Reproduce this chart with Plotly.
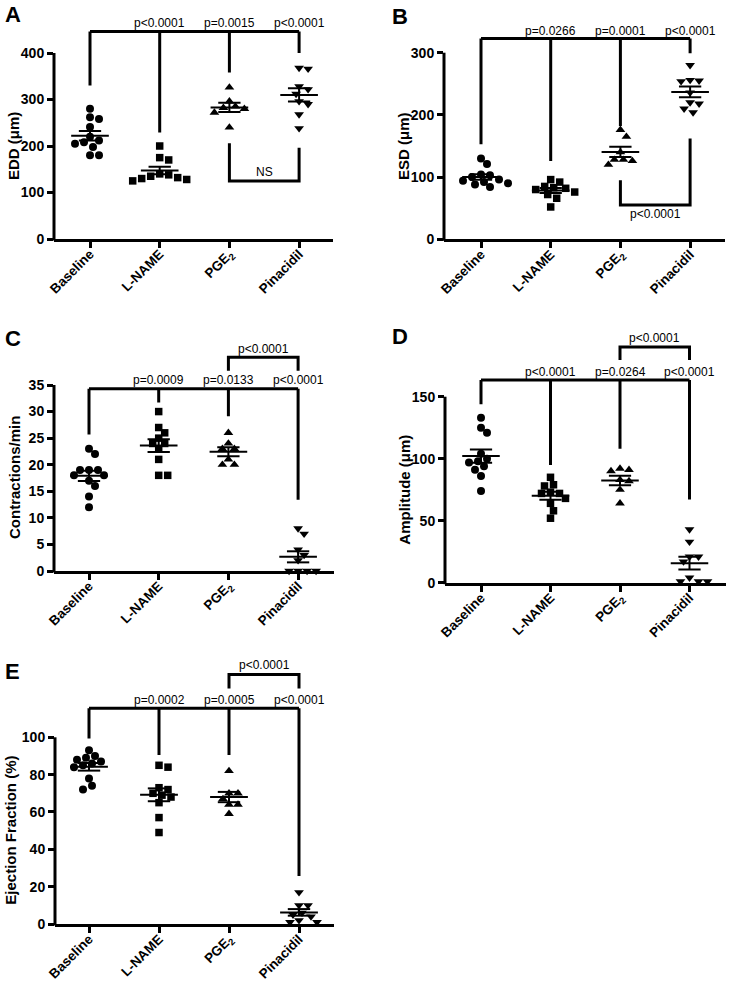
import numpy as np
import plotly.graph_objects as go

W, H = 750, 983
FONT = "Liberation Sans, Arial, sans-serif"

groups = ["Baseline", "L-NAME", "PGE<sub>2</sub>", "Pinacidil"]

# Panel A: EDD (µm)
edd_baseline = [280, 262, 258, 241, 220, 212, 208, 205, 198, 180, 180]
edd_lname = [200, 175, 170, 140, 138, 135, 132, 130, 128, 125]
edd_pge2 = [326, 296, 285, 282, 280, 272, 240]
edd_pinacidil = [368, 366, 328, 322, 312, 296, 290, 268, 238]
edd_p = ["p<0.0001", "p=0.0015", "p<0.0001"]
edd_p_pair = "NS"

# Panel B: ESD (µm)
esd_baseline = [130, 121, 104, 103, 100, 96, 94, 92, 90, 88, 84]
esd_lname = [96, 92, 85, 83, 82, 80, 76, 72, 66, 52]
esd_pge2 = [176, 165, 140, 128, 128, 126, 120]
esd_pinacidil = [280, 256, 255, 254, 236, 220, 218, 210, 204]
esd_p = ["p=0.0266", "p=0.0001", "p<0.0001"]
esd_p_pair = "p<0.0001"

# Panel C: Contractions/min
cpm_baseline = [23, 22, 19, 19, 19, 18, 18, 17, 16, 14, 12]
cpm_lname = [30, 27, 26, 25, 24, 24, 23, 21, 18, 18]
cpm_pge2 = [26, 24, 23, 23, 21, 20, 20]
cpm_pinacidil = [8, 7, 4, 3, 2, 0, 0, 0, 0]
cpm_p = ["p=0.0009", "p=0.0133", "p<0.0001"]
cpm_p_pair = "p<0.0001"

# Panel D: Amplitude (µm)
amp_baseline = [133, 125, 121, 104, 100, 98, 97, 94, 91, 86, 74]
amp_lname = [85, 79, 78, 73, 72, 72, 68, 64, 58, 52]
amp_pge2 = [92, 91, 90, 83, 82, 75, 64]
amp_pinacidil = [43, 33, 21, 21, 17, 4, 1, 1, 1]
amp_p = ["p<0.0001", "p=0.0264", "p<0.0001"]
amp_p_pair = "p<0.0001"

# Panel E: Ejection Fraction (%)
ef_baseline = [93, 90, 89, 88, 87, 86, 85, 84, 78, 74, 72]
ef_lname = [85, 84, 73, 72, 70, 69, 68, 65, 57, 49]
ef_pge2 = [82, 70, 70, 67, 64, 64, 59]
ef_pinacidil = [17, 10, 10, 6, 5, 4, 2, 1, 1]
ef_p = ["p=0.0002", "p=0.0005", "p<0.0001"]
ef_p_pair = "p<0.0001"

symbols = ["circle", "square", "triangle-up", "triangle-down"]
msizes = [8, 7.5, 8.5, 8.5]

# layout geometry (pixels) and bracket geometry (data units)
panels = [
    dict(letter="A", data=[edd_baseline, edd_lname, edd_pge2, edd_pinacidil], title="EDD (μm)",
         ticks=[0, 100, 200, 300, 400], left=54, right=333, y0=239, ytop_px=53, cat0=90, step=69.7, rtop=480,
         main_top=446, drops=[330, 229, 358, 400], ptext_y=464, pvals=edd_p,
         pair=dict(h=125, ends=[206, 196], text=edd_p_pair, ty=144), letter_xy=(3, 0)),
    dict(letter="B", data=[esd_baseline, esd_lname, esd_pge2, esd_pinacidil], title="ESD (μm)",
         ticks=[0, 100, 200, 300], left=444, right=725, y0=239.3, ytop_px=52.7, cat0=481, step=69.7, rtop=360,
         main_top=323, drops=[153, 126, 182, 299], ptext_y=335, pvals=esd_p,
         pair=dict(h=55, ends=[95, 162], text=esd_p_pair, ty=40), letter_xy=(390, 2)),
    dict(letter="C", data=[cpm_baseline, cpm_lname, cpm_pge2, cpm_pinacidil], title="Contractions/min",
         ticks=[0, 5, 10, 15, 20, 25, 30, 35], left=54, right=334, y0=571, ytop_px=385, cat0=89, step=69.7, rtop=44.5,
         main_top=34.3, drops=[25.7, 31.7, 29.1, 13.4], ptext_y=35.9, pvals=cpm_p,
         pair=dict(h=40.2, ends=[37.7, 37.7], text=cpm_p_pair, ty=41.8), letter_xy=(3, 324)),
    dict(letter="D", data=[amp_baseline, amp_lname, amp_pge2, amp_pinacidil], title="Amplitude (μm)",
         ticks=[0, 50, 100, 150], left=445, right=726, y0=582.7, ytop_px=396.7, cat0=481, step=69.5, rtop=206,
         main_top=163.5, drops=[144, 95, 108, 67], ptext_y=170, pvals=amp_p,
         pair=dict(h=190, ends=[179.6, 179.6], text=amp_p_pair, ty=197), letter_xy=(390, 322)),
    dict(letter="E", data=[ef_baseline, ef_lname, ef_pge2, ef_pinacidil], title="Ejection Fraction (%)",
         ticks=[0, 20, 40, 60, 80, 100], left=55, right=334, y0=924, ytop_px=737.3, cat0=89, step=70, rtop=145,
         main_top=115.5, drops=[99.4, 90.5, 90.5, 25.7], ptext_y=120, pvals=ef_p,
         pair=dict(h=133.7, ends=[126.2, 126.2], text=ef_p_pair, ty=138.7), letter_xy=(3, 657)),
]


def swarm(values, ppx, ppy, diam=7.6, step=3.0):
    order = sorted(range(len(values)), key=lambda i: -values[i])
    placed = []
    offs = [0.0] * len(values)
    cands = [0.0]
    for j in range(1, 40):
        cands += [j * step, -j * step]
    for i in order:
        yv = values[i] * ppy
        chosen = cands[-1]
        for c in cands:
            if all((c - px) ** 2 + (yv - py) ** 2 >= diam ** 2 for px, py in placed):
                chosen = c
                break
        placed.append((chosen, yv))
        offs[i] = chosen / ppx
    return offs


fig = go.Figure()
layout = dict(width=W, height=H, margin=dict(l=0, r=0, t=0, b=0, autoexpand=False),
              template="none",
              paper_bgcolor="white", plot_bgcolor="white", showlegend=False,
              font=dict(family=FONT, color="black"))
shapes, annotations = [], []
LW = 3

for k, p in enumerate(panels):
    n = k + 1
    xa = "x" if n == 1 else f"x{n}"
    ya = "y" if n == 1 else f"y{n}"
    ppu = (p["y0"] - p["ytop_px"]) / p["ticks"][-1]
    top_px = p["y0"] - p["rtop"] * ppu
    ydom = [1 - p["y0"] / H, 1 - top_px / H]
    xdom = [p["left"] / W, p["right"] / W]
    xr = [(p["left"] - p["cat0"]) / p["step"], (p["right"] - p["cat0"]) / p["step"]]

    layout["xaxis" if n == 1 else f"xaxis{n}"] = dict(
        domain=xdom, range=xr, anchor=ya, showgrid=False, zeroline=False, automargin=False,
        showline=True, linewidth=LW, linecolor="black",
        tickmode="array", tickvals=[0, 1, 2, 3], ticktext=groups, tickangle=-45,
        ticks="outside", ticklen=6, tickwidth=2.5, tickcolor="black", ticklabelstandoff=-7,
        tickfont=dict(family=FONT, size=13.5, color="black", weight="bold"))
    layout["yaxis" if n == 1 else f"yaxis{n}"] = dict(
        domain=ydom, range=[0, p["rtop"]], anchor=xa, showgrid=False, zeroline=False, automargin=False,
        showline=False, tickmode="array", tickvals=p["ticks"],
        ticks="outside", ticklen=6, tickwidth=2.5, tickcolor="black",
        tickfont=dict(family=FONT, size=14, color="black", weight="bold"))

    # y axis line only up to the last tick
    def ypaper(v):
        return ydom[0] + v / p["rtop"] * (ydom[1] - ydom[0])
    shapes.append(dict(type="line", xref="paper", yref="paper", x0=xdom[0], x1=xdom[0],
                       y0=ydom[0] - 1.5 / H, y1=ypaper(p["ticks"][-1]),
                       line=dict(color="black", width=LW)))

    # points + mean/SEM
    lx, ly = [], []
    for g, vals in enumerate(p["data"]):
        offs = swarm(vals, p["step"], ppu)
        fig.add_trace(go.Scatter(
            x=[g + o for o in offs], y=vals, mode="markers", xaxis=xa, yaxis=ya,
            cliponaxis=False,
            marker=dict(symbol=symbols[g], size=msizes[g], color="black", line=dict(width=0))))
        arr = np.array(vals, dtype=float)
        m = arr.mean()
        se = arr.std(ddof=1) / np.sqrt(len(arr))
        lx += [g - 0.27, g + 0.27, None, g - 0.16, g + 0.16, None, g - 0.16, g + 0.16, None, g, g, None]
        ly += [m, m, None, m + se, m + se, None, m - se, m - se, None, m - se, m + se, None]
    fig.add_trace(go.Scatter(x=lx, y=ly, mode="lines", xaxis=xa, yaxis=ya,
                             line=dict(color="black", width=2), cliponaxis=False))

    # main brackets (each group vs baseline)
    shapes.append(dict(type="line", xref=xa, yref=ya, x0=0, x1=3, y0=p["main_top"], y1=p["main_top"],
                       line=dict(color="black", width=LW)))
    for g in range(4):
        shapes.append(dict(type="line", xref=xa, yref=ya, x0=g, x1=g, y0=p["drops"][g], y1=p["main_top"],
                           line=dict(color="black", width=LW)))
    for g in range(1, 4):
        annotations.append(dict(xref=xa, yref=ya, x=g, y=p["ptext_y"], text=p["pvals"][g - 1],
                                showarrow=False, xanchor="center", yanchor="middle",
                                font=dict(family=FONT, size=12, color="black")))
    # pairwise bracket PGE2 vs Pinacidil
    pr = p["pair"]
    shapes.append(dict(type="path", xref=xa, yref=ya,
                       path=f"M 2,{pr['ends'][0]} L 2,{pr['h']} L 3,{pr['h']} L 3,{pr['ends'][1]}",
                       line=dict(color="black", width=LW)))
    annotations.append(dict(xref=xa, yref=ya, x=2.5, y=pr["ty"], text=pr["text"],
                            showarrow=False, xanchor="center", yanchor="middle",
                            font=dict(family=FONT, size=12, color="black")))

    # axis title
    annotations.append(dict(xref="paper", yref="paper",
                            x=(p["left"] - 40 - (4 if n == 5 else 0)) / W,
                            y=1 - (p["y0"] + p["ytop_px"]) / 2 / H,
                            text=p["title"], textangle=-90, showarrow=False,
                            xanchor="center", yanchor="middle",
                            font=dict(family=FONT, size=15, color="black", weight="bold")))
    # panel letter
    lx0, ly0 = p["letter_xy"]
    annotations.append(dict(xref="paper", yref="paper", x=lx0 / W, y=1 - ly0 / H, text=p["letter"],
                            showarrow=False, xanchor="left", yanchor="top",
                            font=dict(family=FONT, size=22, color="black", weight="bold")))

layout["shapes"] = shapes
layout["annotations"] = annotations
fig.update_layout(**layout)
fig.write_html("out.html", config={"displayModeBar": False},
               post_script="document.body.style.margin='0';document.body.style.overflow='hidden';")
